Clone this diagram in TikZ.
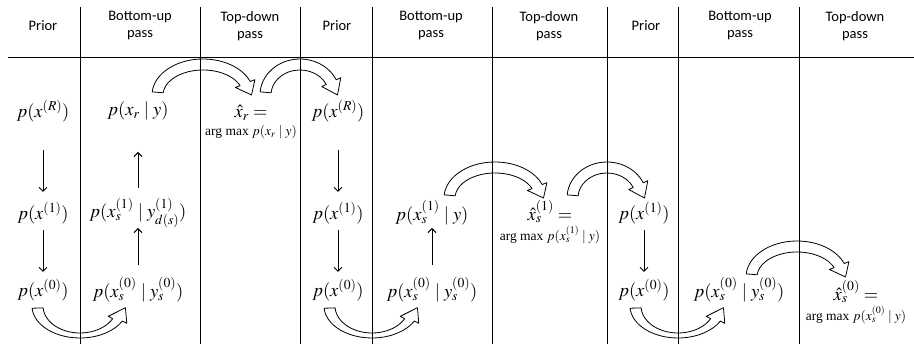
\documentclass[tikz,border=0pt]{standalone}
\usepackage{mathptmx}
\usepackage{fontspec}
\setmainfont{Liberation Serif}
\newfontfamily\headfont{Carlito}
\usetikzlibrary{arrows.meta}
% hollow curved block arrow: center, outer a, outer b, band x, band y, start, end, tip angle
\newcommand{\blockarc}[8]{%
  \begin{scope}[shift={(#1)}]
    \pgfmathsetmacro{\ia}{#2-#4}\pgfmathsetmacro{\ib}{#3-#5}
    \pgfmathsetmacro{\ha}{#2+5}\pgfmathsetmacro{\hb}{#3+5}
    \pgfmathsetmacro{\ja}{#2-#4-5}\pgfmathsetmacro{\jb}{#3-#5-5}
    \pgfmathsetmacro{\ta}{#2-#4/2+3}\pgfmathsetmacro{\tb}{#3-#5/2+3}
    \draw[blockline] (#6:#2 and #3) arc[start angle=#6,end angle=#7,x radius=#2,y radius=#3]
      -- (#7:{\ha} and {\hb}) -- (#8:{\ta} and {\tb}) -- (#7:{\ja} and {\jb})
      -- (#7:{\ia} and {\ib}) arc[start angle=#7,end angle=#6,x radius=\ia,y radius=\ib] -- cycle;
  \end{scope}}

\begin{document}
\begin{tikzpicture}[x=1pt,y=1pt,
    head/.style={font=\headfont\fontsize{14.5}{17}\selectfont,align=center,inner sep=0pt},
    formula/.style={font=\fontsize{18.5}{21}\selectfont,inner sep=1pt},
    result/.style={font=\fontsize{13.5}{16}\selectfont,align=center,inner sep=0pt},
    thinarrow/.style={line width=0.9pt,-{Straight Barb[length=4pt,width=8pt]}},
    blockline/.style={line width=0.8pt,line join=round}
  ]
  \useasboundingbox (0,0) rectangle (914,344);
  % table rules
  \draw[line width=0.8pt] (8,287) -- (914,287);
  \foreach \x in {80,200,300,372,492,607,678,799}
    \draw[line width=0.8pt] (\x,0) -- (\x,337);

  % headers
  \node[head] (hp1) at (43,318) {Prior};
  \node[head] (hb1) at (140,318) {Bottom-up\\pass};
  \node[head] (ht1) at (250,318) {Top-down\\pass};
  \node[head] (hp2) at (337,318) {Prior};
  \node[head] (hb2) at (431,318) {Bottom-up\\pass};
  \node[head] (ht2) at (549,318) {Top-down\\pass};
  \node[head] (hp3) at (646,318) {Prior};
  \node[head] (hb3) at (740,318) {Bottom-up\\pass};
  \node[head] (ht3) at (855,318) {Top-down\\pass};

  % first round
  \node[formula] (priorR1) at (43,233) {$p(x^{(R)})$};
  \node[formula] (prior11) at (43,131) {$p(x^{(1)})$};
  \node[formula] (prior01) at (43,54) {$p(x^{(0)})$};
  \node[formula] (upR1) at (138,233) {$p(x_r \mid y)$};
  \node[formula] (up11) at (138,131) {$p(x_s^{(1)} \mid y_{d(s)}^{(1)})$};
  \node[formula] (up01) at (138,54) {$p(x_s^{(0)} \mid y_s^{(0)})$};
  \node[result] (topR1) at (251,222) {{\fontsize{18.5}{21}\selectfont$\hat{x}_r =$}\\[2pt]arg max $p(x_r \mid y)$};

  % second round
  \node[formula] (priorR2) at (338,233) {$p(x^{(R)})$};
  \node[formula] (prior12) at (338,131) {$p(x^{(1)})$};
  \node[formula] (prior02) at (338,54) {$p(x^{(0)})$};
  \node[formula] (up12) at (432,131) {$p(x_s^{(1)} \mid y)$};
  \node[formula] (up02) at (432,54) {$p(x_s^{(0)} \mid y_s^{(0)})$};
  \node[result] (top12) at (550,122) {{\fontsize{18.5}{21}\selectfont$\hat{x}_s^{(1)} =$}\\[2pt]arg max $p(x_s^{(1)} \mid y)$};

  % third round
  \node[formula] (prior13) at (644,131) {$p(x^{(1)})$};
  \node[formula] (prior03) at (644,54) {$p(x^{(0)})$};
  \node[formula] (up03) at (739,54) {$p(x_s^{(0)} \mid y_s^{(0)})$};
  \node[result] (top03) at (856,42) {{\fontsize{18.5}{21}\selectfont$\hat{x}_s^{(0)} =$}\\[2pt]arg max $p(x_s^{(0)} \mid y)$};

  % thin arrows
  \draw[thinarrow,shorten <=39pt,shorten >=21pt] (priorR1.center) -- (prior11.center);
  \draw[thinarrow,shorten <=17pt,shorten >=18pt] (prior11.center) -- (prior01.center);
  \draw[thinarrow,shorten <=25pt,shorten >=15pt] (up01.center) -- (up11.center);
  \draw[thinarrow,shorten <=25pt,shorten >=41pt] (up11.center) -- (upR1.center);
  \draw[thinarrow,shorten <=39pt,shorten >=21pt] (priorR2.center) -- (prior12.center);
  \draw[thinarrow,shorten <=17pt,shorten >=18pt] (prior12.center) -- (prior02.center);
  \draw[thinarrow,shorten <=25pt,shorten >=15pt] (up02.center) -- (up12.center);
  \draw[thinarrow,shorten <=17pt,shorten >=18pt] (prior13.center) -- (prior03.center);

  % block arrows
  \blockarc{203,249}{51}{36}{11}{11}{175}{22}{0}
  \blockarc{300,249}{40}{36}{11}{11}{175}{25}{0}
  \blockarc{495,146}{51}{36}{11}{11}{175}{22}{0}
  \blockarc{607,146}{40}{36}{11}{11}{175}{25}{0}
  \blockarc{797,67}{51}{36}{11}{11}{175}{22}{0}
  \blockarc{80,38}{48}{32}{11}{5}{184}{332}{357}
  \blockarc{372,38}{48}{32}{11}{5}{184}{332}{357}
  \blockarc{678,38}{48}{32}{11}{5}{184}{332}{357}
\end{tikzpicture}
\end{document}
